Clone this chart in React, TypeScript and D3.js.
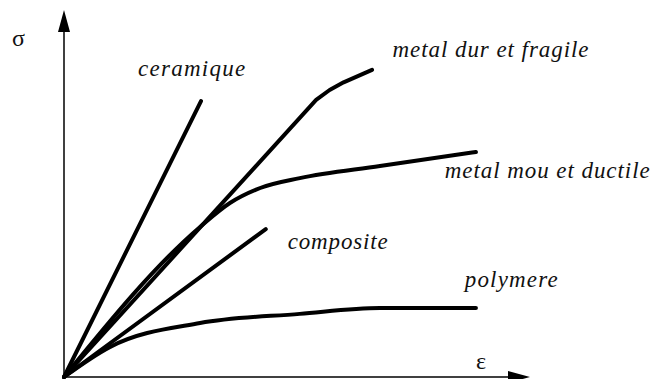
import React from "react";
import * as d3 from "d3";

type Pt = [number, number];

const ceramique: Pt[] = [[0, 0], [2.94, 7.52]];
const metalDur: Pt[] = [[0, 0], [5.41, 7.55], [5.7, 7.82], [6.0, 8.03], [6.61, 8.37]];
const metalMou: Pt[] = [[0, 0], [2.92, 4.09], [3.56, 4.74], [4.21, 5.15], [5.06, 5.42], [6.78, 5.75], [8.84, 6.13]];
const composite: Pt[] = [[0, 0], [4.33, 4.03]];
const polymere: Pt[] = [[0, 0], [0.99, 0.82], [2.92, 1.47], [5.06, 1.72], [6.78, 1.88], [8.84, 1.88]];

const labels = ["ceramique", "metal dur et fragile", "metal mou et ductile", "composite", "polymere"];
const labelPos: Pt[] = [[1.59, 8.2], [7.05, 8.72], [8.17, 5.41], [4.8, 3.5], [8.6, 2.45]];
const labelWidth = [107, 196, 205, 100, 93];

const W = 654, H = 379;
const x = d3.scaleLinear().domain([0, 10]).range([64, 530]);
const y = d3.scaleLinear().domain([0, 10]).range([377, 10]);
const FONT = "Liberation Serif, DejaVu Serif, Times New Roman, serif";

export default function App() {
  const smooth = d3.line<Pt>().x(d => x(d[0])).y(d => y(d[1])).curve(d3.curveMonotoneX);
  const straight = d3.line<Pt>().x(d => x(d[0])).y(d => y(d[1])).curve(d3.curveLinear);
  const series: [Pt[], boolean][] = [[ceramique, false], [metalDur, false], [metalMou, true], [composite, false], [polymere, true]];
  const x0 = x(0), y0 = y(0), xEnd = x(10), yEnd = y(10);
  return (
    <svg width={W} height={H} style={{ position: "absolute", left: 0, top: 0, background: "#fff" }}>
      <line x1={x0} y1={y0} x2={x0} y2={yEnd + 20} stroke="#000" strokeWidth={1.5} />
      <path d={`M${x0},${yEnd} L${x0 - 6},${yEnd + 22} L${x0 + 6},${yEnd + 22} Z`} fill="#000" />
      <line x1={x0} y1={y0} x2={xEnd - 20} y2={y0} stroke="#000" strokeWidth={1.5} />
      <path d={`M${xEnd},${y0} L${xEnd - 22},${y0 - 6} L${xEnd - 22},${y0 + 6} Z`} fill="#000" />
      {series.map(([s, sm], i) => (
        <path key={i} d={(sm ? smooth(s) : straight(s)) || ""} fill="none" stroke="#000" strokeWidth={4} strokeLinecap="round" strokeLinejoin="round" />
      ))}
      {labels.map((t, i) => (
        <text key={t} x={x(labelPos[i][0])} y={y(labelPos[i][1])} textLength={labelWidth[i]} lengthAdjust="spacing"
          style={{ fontFamily: FONT, fontStyle: "italic", fontSize: "23px" }} fill="#111">{t}</text>
      ))}
      <text x={12} y={46} style={{ fontFamily: FONT, fontSize: "24px" }} fill="#111">σ</text>
      <text x={476} y={369} style={{ fontFamily: FONT, fontSize: "24px" }} fill="#111">ε</text>
    </svg>
  );
}
